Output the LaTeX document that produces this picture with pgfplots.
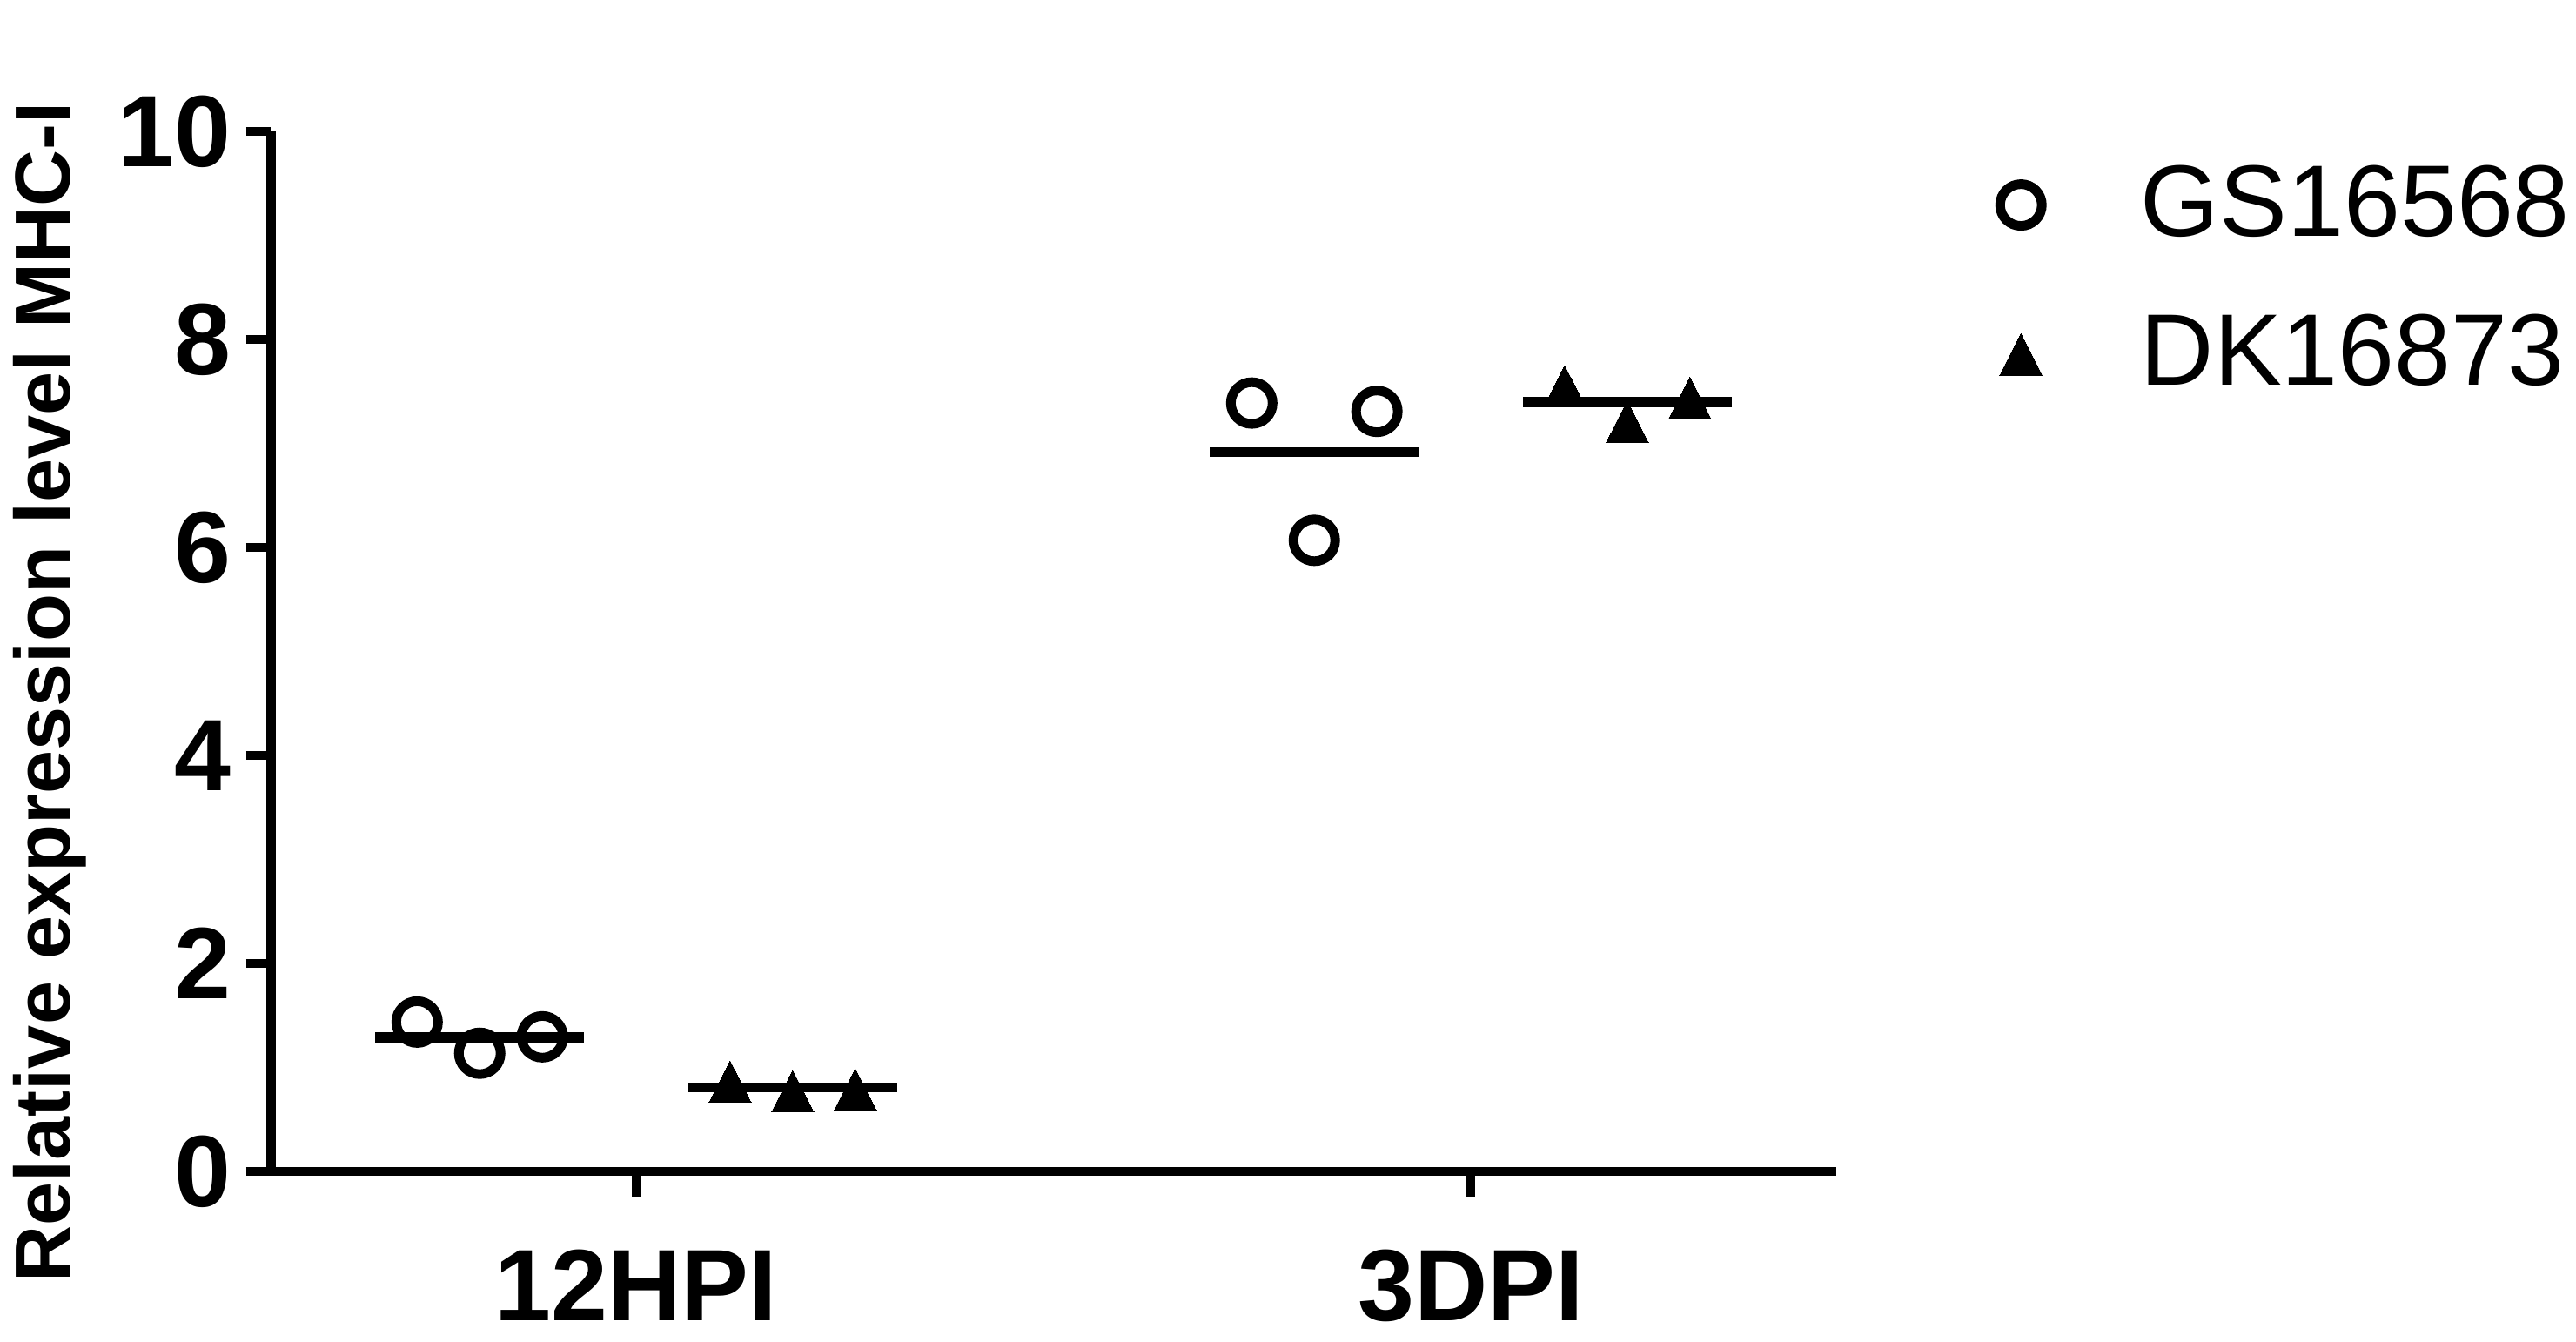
\documentclass[border=0pt]{standalone}
\usepackage{fontspec}
\setmainfont{Liberation Sans}
\usepackage{pgfplots}
\pgfplotsset{compat=1.18}
\begin{document}
\begin{tikzpicture}
\useasboundingbox (-46.72pt,-29.25pt) rectangle (397.25pt,201.89pt);
\begin{axis}[
  at={(0pt,0pt)}, anchor=origin,
  scale only axis, width=269.7pt, height=179.2pt,
  xmin=0.5625, xmax=2.4375, ymin=0, ymax=10,
  axis lines=left,
  axis line style={-, line width=1.6pt},
  xtick={1,2}, xticklabels={12HPI,3DPI},
  ytick={0,2,4,6,8,10},
  tick align=outside,
  major tick length=4.3pt,
  tick style={line width=1.5pt, black},
  /pgf/number format/assume math mode=true,
  ticklabel style={font=\fontsize{17.5}{20}\selectfont\bfseries},
  yticklabel style={inner sep=0pt, xshift=-2.4pt},
  xticklabel style={inner sep=0pt, anchor=north, yshift=-9pt},
  ylabel={Relative expression level MHC-I},
  every axis y label/.style={at={(axis description cs:-0.1285,0.461)}, rotate=90, anchor=base, font=\fontsize{13.5}{16}\selectfont\bfseries},
  clip=false,
  legend style={draw=none, fill=none, at={(axis description cs:1.104,0.98)}, anchor=north west,
    font=\fontsize{17.5}{20}\selectfont, row sep=8pt, inner sep=0pt,
    /tikz/every odd column/.append style={column sep=15pt}},
  legend cell align=left,
]
\addplot[only marks, mark=o, mark size=3.6pt, mark options={line width=1.65pt, black}] coordinates {
  (0.7375,1.437) (0.8125,1.137) (0.8875,1.295)
  (1.7375,7.39) (1.8125,6.07) (1.8875,7.31)
};
\addlegendentry{GS16568}
\addplot[only marks, mark=triangle*, mark size=4.2pt, mark options={black, fill=black, line width=0pt, yshift=-1.2pt, yscale=1.14}] coordinates {
  (1.1125,0.863) (1.1875,0.771) (1.2625,0.788)
  (2.1125,7.55) (2.1875,7.21) (2.2625,7.44)
};
\addlegendentry{DK16873}
% means
\addplot[forget plot, black, line width=1.7pt] coordinates {(0.6875,1.29) (0.9375,1.29)};
\addplot[forget plot, black, line width=1.7pt] coordinates {(1.0625,0.81) (1.3125,0.81)};
\addplot[forget plot, black, line width=1.7pt] coordinates {(1.6875,6.92) (1.9375,6.92)};
\addplot[forget plot, black, line width=1.7pt] coordinates {(2.0625,7.40) (2.3125,7.40)};
\end{axis}
\end{tikzpicture}
\end{document}
